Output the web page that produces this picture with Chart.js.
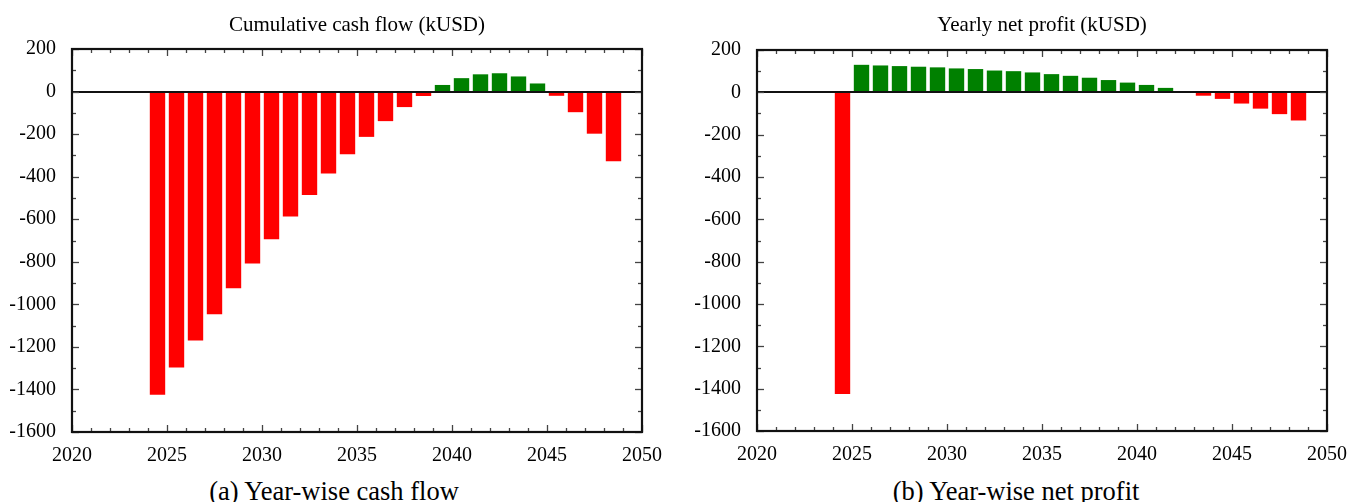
<!DOCTYPE html>
<html>
<head>
<meta charset="utf-8">
<script src="https://cdn.jsdelivr.net/npm/chart.js@4/dist/chart.umd.min.js"></script>
<style>
  html, body { margin: 0; padding: 0; background: #fff; }
  body { width: 1367px; height: 502px; position: relative; overflow: hidden; }
  canvas { position: absolute; top: 0; }
  #cashCanvas { left: 0; }
  #profitCanvas { left: 683px; }
  .label {
    position: absolute; width: 400px; text-align: center; color: #000; white-space: nowrap;
    font-family: "Liberation Serif", "Times New Roman", serif;
  }
  .title { top: 14px; font-size: 21px; line-height: 21px; }
  .caption { top: 478px; font-size: 26.5px; line-height: 26px; }
</style>
</head>
<body>
<canvas id="cashCanvas" width="683" height="465"></canvas>
<canvas id="profitCanvas" width="684" height="465"></canvas>
<div class="label title" style="left:157px">Cumulative cash flow (kUSD)</div>
<div class="label title" style="left:842px">Yearly net profit (kUSD)</div>
<div class="label caption" style="left:134px">(a) Year-wise cash flow</div>
<div class="label caption" style="left:816px">(b) Year-wise net profit</div>

<script>
// Project years, one bar per year
const years = [2024, 2025, 2026, 2027, 2028, 2029, 2030, 2031, 2032, 2033, 2034, 2035, 2036,
               2037, 2038, 2039, 2040, 2041, 2042, 2043, 2044, 2045, 2046, 2047, 2048];

// Cumulative cash flow, kUSD
const cumulativeCash = [-1425, -1297, -1170, -1047, -924, -808, -694, -587, -486, -385, -295, -213, -139,
                        -73, -21, 31, 63, 81, 86, 71, 38, -20, -97, -198, -328];

// Yearly net profit, kUSD
const yearlyProfit = [-1425, 130, 127, 124, 121, 118, 113, 110, 103, 100, 94, 86, 78,
                      69, 58, 46, 35, 21, 0, -16, -31, -53, -77, -103, -133];

// Axis ranges and tick steps
const xRange = [2020, 2050];
const yRange = [-1600, 200];
const xMajorStep = 5, xMinorStep = 1;
const yMajorStep = 200, yMinorStep = 100;

const SERIF = '"Liberation Serif", "Times New Roman", serif';
const POS_COLOR = '#008000';
const NEG_COLOR = '#ff0000';

Chart.defaults.color = '#000';
Chart.defaults.font.family = SERIF;

// Box frame, zero line and inward tick marks on all four sides
const frameTicks = {
  id: 'frameTicks',
  afterDatasetsDraw(chart) {
    const { ctx, chartArea: a, scales: { x, y } } = chart;
    const seg = (x1, y1, x2, y2) => { ctx.beginPath(); ctx.moveTo(x1, y1); ctx.lineTo(x2, y2); ctx.stroke(); };
    ctx.save();
    ctx.strokeStyle = '#111';
    ctx.lineWidth = 2;
    const y0 = Math.round(y.getPixelForValue(0));
    seg(a.left, y0, a.right, y0);

    ctx.strokeStyle = '#444';
    ctx.lineWidth = 1.3;
    for (let v = xRange[0]; v <= xRange[1]; v += xMinorStep) {
      const px = Math.round(x.getPixelForValue(v)) + 0.5;
      const len = (v % xMajorStep === 0) ? 7 : 4;
      seg(px, a.top, px, a.top + len);
      seg(px, a.bottom, px, a.bottom - len);
    }
    for (let v = yRange[0]; v <= yRange[1]; v += yMinorStep) {
      const py = Math.round(y.getPixelForValue(v)) + 0.5;
      const len = (v % yMajorStep === 0) ? 7 : 4;
      seg(a.left, py, a.left + len, py);
      seg(a.right, py, a.right - len, py);
    }

    ctx.strokeStyle = '#111';
    ctx.lineWidth = 2.2;
    ctx.strokeRect(a.left, a.top, a.right - a.left, a.bottom - a.top);
    ctx.restore();
  }
};

function makeChart(canvasId, values, opts) {
  // each bar spans its own calendar year
  const points = years.map((yr, i) => ({ x: yr + 0.5, y: values[i] }));
  return new Chart(document.getElementById(canvasId), {
    type: 'bar',
    data: {
      datasets: [{
        data: points,
        backgroundColor: values.map(v => v >= 0 ? POS_COLOR : NEG_COLOR),
        borderWidth: 0,
        barPercentage: 0.81,
        categoryPercentage: 1.0
      }]
    },
    options: {
      responsive: false,
      animation: false,
      layout: { padding: { left: 0, right: opts.padRight, top: opts.padTop, bottom: 0 } },
      plugins: {
        legend: { display: false },
        tooltip: { enabled: false },
        title: { display: false }
      },
      scales: {
        x: {
          type: 'linear',
          offset: false,
          min: xRange[0],
          max: xRange[1],
          grid: { display: false, drawTicks: false },
          border: { display: false },
          ticks: {
            stepSize: xMajorStep,
            padding: 12,
            maxRotation: 0,
            color: '#000',
            font: { family: SERIF, size: 20 },
            callback: v => String(v)
          },
          afterFit: s => { s.height = opts.xAxisHeight; }
        },
        y: {
          min: yRange[0],
          max: yRange[1],
          grid: { display: false, drawTicks: false },
          border: { display: false },
          ticks: {
            stepSize: yMajorStep,
            padding: 16,
            color: '#000',
            font: { family: SERIF, size: 20 },
            callback: v => String(v)
          },
          afterFit: s => { s.width = opts.yAxisWidth; }
        }
      }
    },
    plugins: [frameTicks]
  });
}

makeChart('cashCanvas', cumulativeCash,
  { padRight: 41, padTop: 49, yAxisWidth: 72, xAxisHeight: 33 });
makeChart('profitCanvas', yearlyProfit,
  { padRight: 40, padTop: 50, yAxisWidth: 74, xAxisHeight: 34 });
</script>
</body>
</html>
